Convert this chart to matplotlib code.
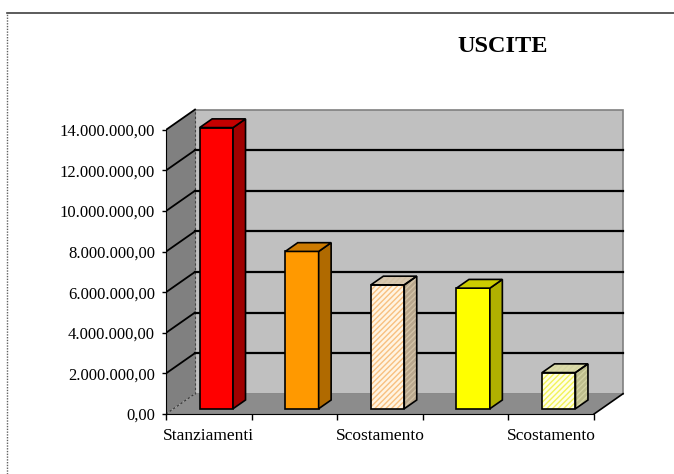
import matplotlib.pyplot as plt
from matplotlib.patches import Polygon
from matplotlib.ticker import FuncFormatter
from matplotlib.lines import Line2D

plt.rcParams['font.family'] = ['Liberation Serif', 'DejaVu Serif']
plt.rcParams['hatch.linewidth'] = 1.0

# data
categories = ["Stanziamenti", "", "Scostamento", "", "Scostamento"]
values = [13850000, 7750000, 6100000, 5940000, 1780000]
front_colors = ["#FF0000", "#FF9900", "#FFF4E2", "#FFFF00", "#FFFFE6"]
side_colors = ["#A00000", "#B06A00", "#B8A68C", "#B0B000", "#BDBD8C"]
top_colors = ["#C40000", "#CC7A00", "#D8C8B0", "#CCCC00", "#DCDCA8"]
hatch_colors = [None, None, "#F8C080", None, "#F2F25A"]
side_hatch_colors = [None, None, "#D2C2A6", None, "#D4D4A4"]
yticks = [0, 2000000, 4000000, 6000000, 8000000, 10000000, 12000000, 14000000]

# fake 3d: depth offset in data units
DX = 0.339
DY = 1.0e6
D0, D1 = 0.26, 0.69
W = 0.39
ymax = yticks[-1]
n = len(categories)

fig = plt.figure(figsize=(6.74, 4.74), dpi=100)
ax = fig.add_axes([166 / 674, 60 / 474, 464 / 674, 314 / 474])
ax.set_xlim(-0.5, 4.92)
ax.set_ylim(0, 15.47e6)
ax.patch.set_visible(False)

x0, x1 = -0.5, n - 0.5

# walls and floor
ax.add_patch(Polygon([(x0 + DX, DY), (x1 + DX, DY), (x1 + DX, ymax + DY), (x0 + DX, ymax + DY)],
                     closed=True, facecolor="#C0C0C0", edgecolor="#808080", lw=1.2, zorder=1))
ax.add_patch(Polygon([(x0, 0), (x0 + DX, DY), (x0 + DX, ymax + DY), (x0, ymax)],
                     closed=True, facecolor="#808080", edgecolor="none", zorder=1))
ax.add_patch(Polygon([(x0, 0), (x1, 0), (x1 + DX, DY), (x0 + DX, DY)],
                     closed=True, facecolor="#8C8C8C", edgecolor="none", zorder=1))
ax.plot([x1, x1 + DX], [0, DY], color="black", lw=1.2, zorder=2)
ax.plot([x0, x0 + DX], [0, DY], color="#333333", lw=0.8, ls=(0, (2, 2)), zorder=2)
ax.plot([x0 + DX, x0 + DX], [DY, ymax + DY], color="#404040", lw=0.8, ls=(0, (2, 2)), zorder=2)

# gridlines
for t in yticks[1:]:
    ax.plot([x0, x0 + DX], [t, t + DY], color="black", lw=1.3, zorder=2)
    if t < ymax:
        ax.plot([x0 + DX, x1 + DX], [t + DY, t + DY], color="black", lw=1.6, zorder=2)

# bars
for i, v in enumerate(values):
    fl = i - W / 2 + D0 * DX
    fr = i + W / 2 + D0 * DX
    fb = D0 * DY
    ddx = (D1 - D0) * DX
    ddy = (D1 - D0) * DY
    front = [(fl, fb), (fr, fb), (fr, fb + v), (fl, fb + v)]
    side = [(fr, fb), (fr + ddx, fb + ddy), (fr + ddx, fb + v + ddy), (fr, fb + v)]
    top = [(fl, fb + v), (fr, fb + v), (fr + ddx, fb + v + ddy), (fl + ddx, fb + v + ddy)]
    faces = [(front, front_colors[i], hatch_colors[i]),
             (side, side_colors[i], side_hatch_colors[i]),
             (top, top_colors[i], side_hatch_colors[i])]
    for poly, col, hc in faces:
        if hc is not None:
            ax.add_patch(Polygon(poly, closed=True, facecolor=col, edgecolor=hc,
                                 lw=0, hatch="//////", zorder=3))
            ax.add_patch(Polygon(poly, closed=True, facecolor="none", edgecolor="black",
                                 lw=1.2, zorder=4))
        else:
            ax.add_patch(Polygon(poly, closed=True, facecolor=col, edgecolor="black",
                                 lw=1.2, zorder=3))

# axes
for s in ["top", "right"]:
    ax.spines[s].set_visible(False)
ax.spines["left"].set_bounds(0, ymax)
ax.spines["bottom"].set_bounds(x0, x1)
ax.spines["left"].set_zorder(5)
ax.spines["bottom"].set_zorder(5)
ax.set_yticks(yticks)
ax.yaxis.set_major_formatter(FuncFormatter(
    lambda v, p: "{:,.2f}".format(v).replace(",", "X").replace(".", ",").replace("X", ".")))
ax.tick_params(axis="y", direction="out", length=3, width=1, labelsize=12, pad=5)
ax.set_xticks([x0 + k for k in range(n + 1)])
ax.set_xticklabels([])
ax.set_xticks(range(n), minor=True)
ax.set_xticklabels(categories, minor=True)
ax.tick_params(axis="x", which="major", direction="out", length=4, width=1)
ax.tick_params(axis="x", which="minor", length=0, labelsize=12.5, pad=10)

fig.text(503 / 674, 1 - 46 / 474, "USCITE", ha="center", va="center",
         fontsize=17.5, fontweight="bold")

# outer frame lines
fig.add_artist(Line2D([7 / 674, 1], [1 - 12.5 / 474, 1 - 12.5 / 474], color="#404040", lw=1.2))
fig.add_artist(Line2D([7 / 674, 7 / 674], [0, 1 - 12.5 / 474], color="#606060", lw=1.0, ls=(0, (1, 1))))

fig.savefig("out.png", dpi=100)
